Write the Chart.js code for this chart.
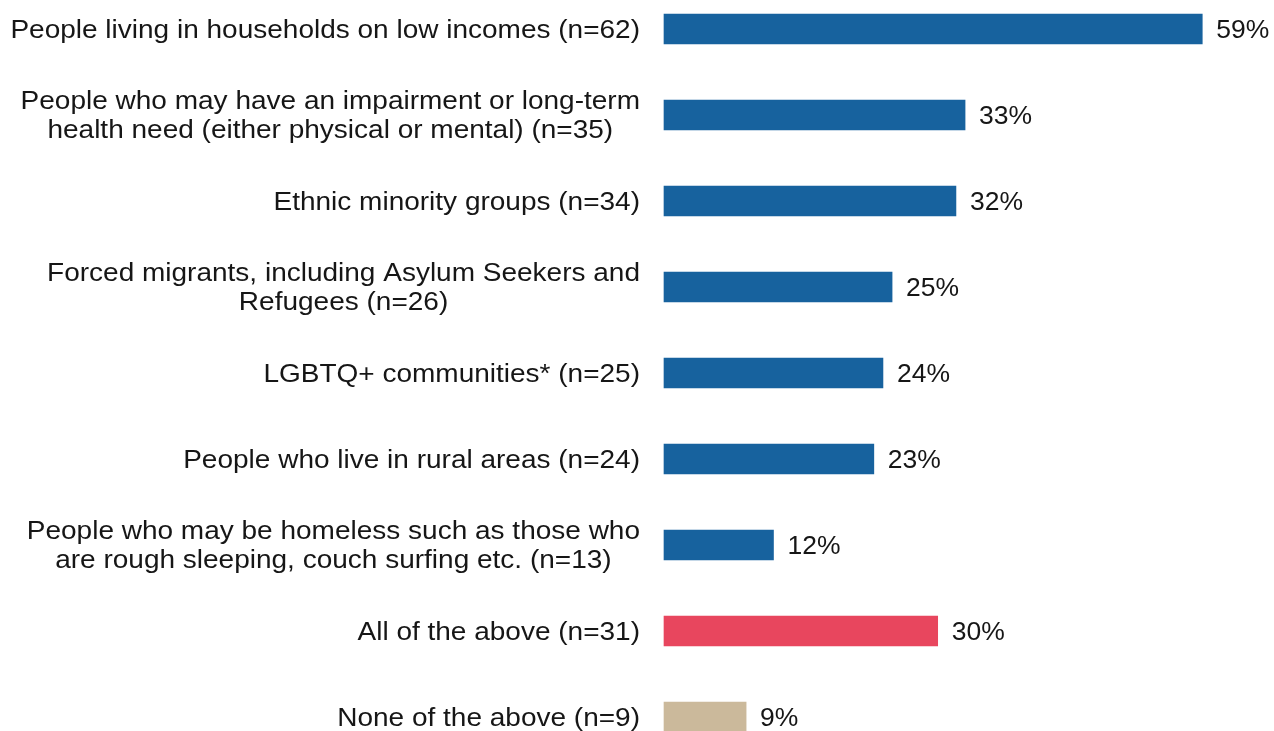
<!DOCTYPE html>
<html>
<head>
<meta charset="utf-8">
<script src="https://cdn.jsdelivr.net/npm/chart.js@4.4.1/dist/chart.umd.min.js"></script>
<style>
  html, body { margin: 0; padding: 0; background: #ffffff; }
  #wrap { width: 1274px; height: 731px; position: relative; }
</style>
</head>
<body>
<div id="wrap"><canvas id="chart" width="1274" height="731"></canvas></div>
<script>
// Groups the respondents' work focuses on (share of respondents)
const categories = [
  ["People living in households on low incomes (n=62)"],
  ["People who may have an impairment or long-term", "health need (either physical or mental) (n=35)"],
  ["Ethnic minority groups (n=34)"],
  ["Forced migrants, including Asylum Seekers and", "Refugees (n=26)"],
  ["LGBTQ+ communities* (n=25)"],
  ["People who live in rural areas (n=24)"],
  ["People who may be homeless such as those who", "are rough sleeping, couch surfing etc. (n=13)"],
  ["All of the above (n=31)"],
  ["None of the above (n=9)"]
];
const percentages = [59, 33, 32, 25, 24, 23, 12, 30, 9];
const barColors = [
  "#17629e", "#17629e", "#17629e", "#17629e", "#17629e", "#17629e", "#17629e",
  "#e8465e", "#cbb99b"
];

const FONT = '25px "Liberation Sans", Arial, sans-serif';
const TEXT_COLOR = '#161616';
const STRETCH = 1.12;        // horizontal stretch for category labels
const VALUE_STRETCH = 1.06;  // horizontal stretch for percentage labels
const LINE_H = 29;

function drawStretched(ctx, text, x, y, align, sx) {
  ctx.save();
  ctx.translate(x, y);
  ctx.scale(sx, 1);
  ctx.textAlign = align;
  ctx.fillText(text, 0, 0);
  ctx.restore();
}

// Category labels: each block right-aligned to the axis, lines centred within it
const categoryLabels = {
  id: 'categoryLabels',
  afterDraw(chart) {
    const ctx = chart.ctx;
    const yScale = chart.scales.y;
    const rightEdge = chart.chartArea.left - 24;
    ctx.save();
    ctx.font = FONT;
    ctx.fillStyle = TEXT_COLOR;
    ctx.textBaseline = 'middle';
    categories.forEach((lines, i) => {
      const yc = yScale.getPixelForValue(i) + 2;
      const w = Math.max(...lines.map(l => ctx.measureText(l).width)) * STRETCH;
      const cx = rightEdge - w / 2;
      const y0 = yc - (lines.length - 1) * LINE_H / 2;
      lines.forEach((line, k) => drawStretched(ctx, line, cx, y0 + k * LINE_H, 'center', STRETCH));
    });
    ctx.restore();
  }
};

// Percentage labels at the end of each bar
const valueLabels = {
  id: 'valueLabels',
  afterDatasetsDraw(chart) {
    const ctx = chart.ctx;
    const meta = chart.getDatasetMeta(0);
    ctx.save();
    ctx.font = FONT;
    ctx.fillStyle = TEXT_COLOR;
    ctx.textBaseline = 'middle';
    meta.data.forEach((bar, i) => {
      drawStretched(ctx, percentages[i] + '%', bar.x + 14, bar.y + 2, 'left', VALUE_STRETCH);
    });
    ctx.restore();
  }
};

new Chart(document.getElementById('chart'), {
  type: 'bar',
  data: {
    labels: categories.map(l => l.join(' ')),
    datasets: [{
      data: percentages,
      backgroundColor: barColors,
      borderWidth: 0,
      barThickness: 30,
      clip: false
    }]
  },
  options: {
    indexAxis: 'y',
    responsive: false,
    animation: false,
    events: [],
    layout: { padding: { top: 29, bottom: 14, left: 0, right: 17 } },
    plugins: {
      legend: { display: false },
      tooltip: { enabled: false },
      title: { display: false }
    },
    scales: {
      x: {
        min: 0,
        max: 65,
        display: false
      },
      y: {
        type: 'category',
        offset: false,
        grid: { display: false },
        border: { display: false },
        ticks: { display: false },
        afterFit(scale) { scale.width = 664; }
      }
    }
  },
  plugins: [categoryLabels, valueLabels]
});
</script>
</body>
</html>
